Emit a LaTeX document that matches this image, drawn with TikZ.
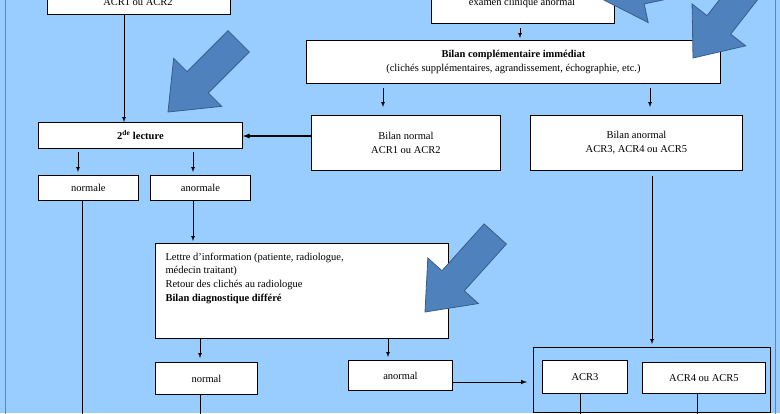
\documentclass[tikz,border=0pt]{standalone}
\usepackage{fontspec}
\setmainfont{Liberation Serif}
\definecolor{bgblue}{RGB}{153,204,255}
\definecolor{arrfill}{RGB}{79,129,189}
\definecolor{arrdraw}{RGB}{56,93,138}
\begin{document}
\begin{tikzpicture}[x=1pt,y=-1pt,
  box/.style={draw=black,fill=white,line width=0.9pt},
  txt/.style={font=\fontsize{10.5}{14}\selectfont,align=center},
  arr/.style={-latex,line width=0.7pt},
  ln/.style={line width=0.7pt},
  blue arrow/.style={fill=arrfill,draw=arrdraw,line width=0.8pt}]
\useasboundingbox (0,0) rectangle (780,413);
\clip (0,0) rectangle (780,413);
\fill[bgblue] (0,0) rectangle (780,413);
\draw[gray,line width=1pt] (5,-5) rectangle (775,420);
\newcommand{\bluearrow}[3]{%
  \begin{scope}[shift={#1},rotate=#2]
  \path[blue arrow] (0,0) -- (-42,-34) -- (-42,-15) -- (-#3,-15) -- (-#3,15) -- (-42,15) -- (-42,34) -- cycle;
  \end{scope}}
% boxes
\node[box,minimum width=183,minimum height=40,anchor=south west] (tl) at (47,15) {};
\node[txt,anchor=base] at (138,5) {ACR1 ou ACR2};
\node[box,minimum width=183,minimum height=40,anchor=south west] (tr) at (431,24) {};
\node[txt,anchor=base] at (522,5) {examen clinique anormal};
\node[box,minimum width=414,minimum height=43,anchor=north west,txt] (bc) at (306,40) {\textbf{Bilan complémentaire immédiat}\\(clichés supplémentaires, agrandissement, échographie, etc.)};
\node[box,minimum width=189,minimum height=55,anchor=north west,txt] (bn) at (311,115) {Bilan normal\\ACR1 ou ACR2};
\node[box,minimum width=212,minimum height=55,anchor=north west,txt] (ba) at (530,115) {Bilan anormal\\ACR3, ACR4 ou ACR5};
\node[box,minimum width=204,minimum height=26,anchor=north west,txt] (lec) at (38,122) {\textbf{2\textsuperscript{de} lecture}};
\node[box,minimum width=100,minimum height=25,anchor=north west,txt] (nle) at (38,175) {normale};
\node[box,minimum width=100,minimum height=25,anchor=north west,txt] (anle) at (150,175) {anormale};
\node[box,minimum width=293,minimum height=95,anchor=north west] (let) at (155,243) {};
\node[txt,align=left,anchor=north west,font=\fontsize{10.5}{15}\selectfont] (lett) at (162,250) {Lettre d'information (patiente, radiologue,\\[-2pt]médecin traitant)\\[-1pt]Retour des clichés au radiologue\\[-1pt]\textbf{Bilan diagnostique différé}};
\node[box,minimum width=102,minimum height=32,anchor=north west,txt] (nl) at (155,362) {normal};
\node[box,minimum width=104,minimum height=30,anchor=north west,txt] (anl) at (348,360) {anormal};
\node[draw=black,line width=0.9pt,minimum width=237,minimum height=65,anchor=north west] (grp) at (533,347) {};
\node[box,minimum width=85,minimum height=33,anchor=north west,txt] (a3) at (542,360) {ACR3};
\node[box,minimum width=123,minimum height=31,anchor=north west,txt] (a45) at (642,362) {ACR4 ou ACR5};
% connectors
\coordinate (c1) at (520,28);
\draw[arr] (c1) -- (520,38);
\coordinate (c2) at (383,88); \coordinate (c3) at (650,88);
\draw[arr] (c2) -- (383,107);
\draw[arr] (c3) -- (650,107);
\draw[arr,line width=1.3pt] (bn.west |- 0,136) -- (lec.east |- 0,136);
\draw[arr] (124,15) -- (lec.north -| 124,0);
\coordinate (c4) at (78,152); \coordinate (c5) at (193,152);
\draw[arr] (c4) -- (78,172);
\draw[arr] (c5) -- (193,172);
\draw[ln] (82,200) -- (82,420);
\draw[arr] (193,200) -- (193,241);
\draw[arr] (200,338) -- (200,358);
\draw[arr] (388,338) -- (388,357);
\draw[ln] (200,394) -- (200,420);
\draw[arr,line width=1pt] (anl.east |- 0,382) -- (527,382);
\draw[arr] (652,176) -- (652,344);
\draw[ln] (580,393) -- (580,420);
\draw[ln] (697,393) -- (697,420);
% blue arrows
\bluearrow{(168,112)}{225}{100}
\bluearrow{(693,58)}{232}{115}
\bluearrow{(425,312)}{228}{105}
\bluearrow{(600,-2)}{192}{90}
\end{tikzpicture}
\end{document}
